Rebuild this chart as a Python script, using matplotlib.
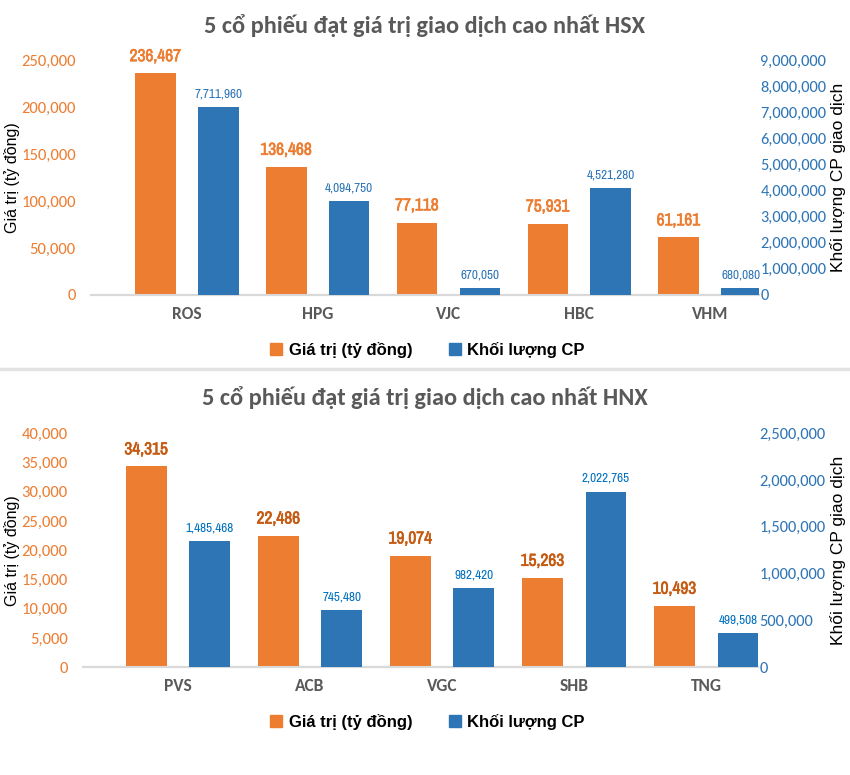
import numpy as np
import matplotlib
matplotlib.use("Agg")
import matplotlib.pyplot as plt
import matplotlib.patheffects as pe
from matplotlib.ticker import FuncFormatter
from matplotlib.lines import Line2D
from matplotlib.patches import Patch

# HSX
hsx_codes = ["ROS", "HPG", "VJC", "HBC", "VHM"]
hsx_value = [236467, 136468, 77118, 75931, 61161]
hsx_volume_label = [7711960, 4094750, 670050, 4521280, 680080]
hsx_volume_bar = [7210000, 3590000, 270000, 4090000, 270000]

# HNX
hnx_codes = ["PVS", "ACB", "VGC", "SHB", "TNG"]
hnx_value = [34315, 22486, 19074, 15263, 10493]
hnx_volume_label = [1485468, 745480, 982420, 2022765, 499508]
hnx_volume_bar = [1349000, 612000, 847000, 1876000, 366000]

ORANGE = "#ED7D31"
BLUE = "#2E75B6"
GRAY = "#595959"
NARROW = ["Archivo Narrow", "Liberation Sans", "DejaVu Sans"]
TITLE_FONT = ["Carlito", "Lato", "DejaVu Sans"]
ARIAL = ["Liberation Sans", "DejaVu Sans"]

fmt = FuncFormatter(lambda v, p: f"{int(v):,}")


def draw_panel(fig, rect, title, title_y, codes, value, vol_bar, vol_label,
               ymax, ystep, y2max, y2step, xlim, legend_y, val_color, vol_color):
    ax = fig.add_axes(rect)
    ax2 = ax.twinx()
    x = np.arange(len(codes))
    w, off = 0.31, 0.24
    ax.bar(x - off, value, w, color=ORANGE, zorder=3)
    ax2.bar(x + off, vol_bar, w, color=BLUE, zorder=3)
    ax.set_ylim(0, ymax)
    ax2.set_ylim(0, y2max)
    ax.set_xlim(*xlim)
    ax.set_yticks(np.arange(0, ymax + 1, ystep))
    ax2.set_yticks(np.arange(0, y2max + 1, y2step))
    ax.yaxis.set_major_formatter(fmt)
    ax2.yaxis.set_major_formatter(fmt)
    ax.set_xticks(x)
    ax.set_xticklabels(codes)
    for t in ax.get_xticklabels():
        t.set_family(TITLE_FONT)
        t.set_fontweight("bold")
        t.set_fontsize(12.5)
        t.set_color(GRAY)
    ax.tick_params(axis="x", length=0, pad=8)
    ax.tick_params(axis="y", length=0, pad=11, labelcolor=ORANGE, labelsize=12)
    ax2.tick_params(axis="y", length=0, pad=1, labelcolor=BLUE, labelsize=11.8)
    for t in ax.get_yticklabels() + ax2.get_yticklabels():
        t.set_family(TITLE_FONT)
    for a in (ax, ax2):
        for s in ["top", "left", "right"]:
            a.spines[s].set_visible(False)
        a.spines["bottom"].set_color("#D9D9D9")
        a.spines["bottom"].set_linewidth(1.5)
    for i in range(len(codes)):
        ax.annotate(f"{value[i]:,}", (x[i] - off, value[i]), xytext=(0, 12),
                    textcoords="offset points", ha="center", va="center",
                    fontsize=12.5, fontweight="bold", color=val_color, family=NARROW,
                    path_effects=[pe.withStroke(linewidth=0.45, foreground=val_color)])
        ax2.annotate(f"{vol_label[i]:,}", (x[i] + off, vol_bar[i]), xytext=(0, 9.5),
                     textcoords="offset points", ha="center", va="center",
                     fontsize=9.5, color=vol_color, family=NARROW)
    # axis titles placed in figure pixels
    mid = rect[1] + rect[3] / 2
    fig.text(12 / 850, mid, "Giá trị (tỷ đồng)", rotation=90, ha="center", va="center",
             fontsize=11.5, family=ARIAL)
    fig.text(838 / 850, mid, "Khối lượng CP giao dịch", rotation=90, ha="center",
             va="center", fontsize=12.5, family=ARIAL)
    fig.text(0.5, title_y, title, ha="center", va="center", fontsize=17.5,
             fontweight="bold", color=GRAY, family=TITLE_FONT)
    handles = [Patch(color=ORANGE, label="Giá trị (tỷ đồng)"),
               Patch(color=BLUE, label="Khối lượng CP")]
    fig.legend(handles=handles, loc="center", bbox_to_anchor=(0.503, legend_y), ncol=2,
               frameon=False, handlelength=0.7, handleheight=0.7, handletextpad=0.4,
               columnspacing=2.2, prop={"family": ARIAL, "weight": "bold", "size": 12})
    return ax


fig = plt.figure(figsize=(8.5, 7.75), dpi=100)

draw_panel(fig, [0.107, 0.6197, 0.786, 0.302],
           "5 cổ phiếu đạt giá trị giao dịch cao nhất HSX", 1 - 26 / 775,
           hsx_codes, hsx_value, hsx_volume_bar, hsx_volume_label,
           250000, 50000, 9000000, 1000000, (-0.734, 4.375), 1 - 350 / 775,
           ORANGE, BLUE)

draw_panel(fig, [0.0976, 0.139, 0.794, 0.302],
           "5 cổ phiếu đạt giá trị giao dịch cao nhất HNX", 1 - 398 / 775,
           hnx_codes, hnx_value, hnx_volume_bar, hnx_volume_label,
           40000, 5000, 2500000, 500000, (-0.72, 4.39), 1 - 722 / 775,
           "#C55A11", "#0070C0")

# separator between the two charts
fig.add_artist(Line2D([0, 1], [1 - 369 / 775, 1 - 369 / 775], color="#E3E3E3", lw=2.5))

fig.savefig("out.png", dpi=100)
